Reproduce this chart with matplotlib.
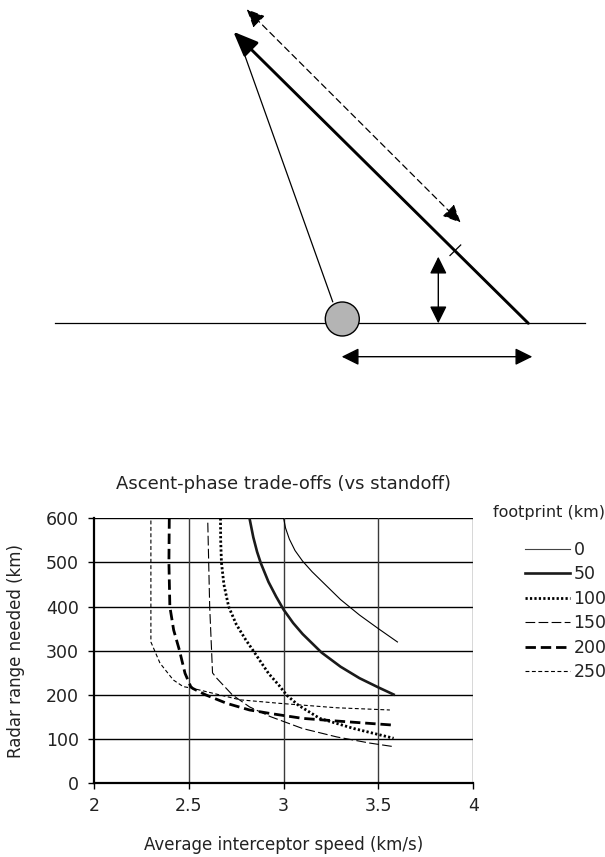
import matplotlib
matplotlib.use("Agg")
import matplotlib.pyplot as plt
from matplotlib.patches import FancyArrowPatch, Circle, ArrowStyle

plt.rcParams['font.family'] = ['DejaVu Sans']
plt.rcParams['lines.scale_dashes'] = False

# ---------------- chart data ----------------
footprints = ["0", "50", "100", "150", "200", "250"]

fp0_x = [3.0, 3.01, 3.03, 3.06, 3.1, 3.15, 3.2, 3.3, 3.4, 3.5, 3.6]
fp0_y = [600, 578, 553, 527, 503, 479, 458, 416, 381, 350, 320]

fp50_x = [2.82, 2.84, 2.86, 2.88, 2.92, 2.96, 3.0, 3.05, 3.1, 3.2, 3.3, 3.4, 3.5, 3.58]
fp50_y = [600, 557, 524, 498, 456, 423, 393, 363, 338, 296, 264, 238, 217, 201]

fp100_x = [2.667, 2.668, 2.672, 2.685, 2.71, 2.75, 2.8, 2.84, 2.92, 2.975, 3.015, 3.077, 3.19, 3.37, 3.58]
fp100_y = [600, 550, 500, 450, 400, 360, 325, 300, 249, 222, 200, 177, 147, 124, 102]

fp150_x = [2.60, 2.61, 2.625, 2.647, 2.73, 2.82, 2.93, 3.1, 3.28, 3.455, 3.58]
fp150_y = [590, 400, 250, 238, 200, 173, 151, 124, 105, 91, 83]

fp200_x = [2.397, 2.395, 2.40, 2.42, 2.45, 2.48, 2.51, 2.52, 2.59, 2.70, 2.82, 2.93, 3.10, 3.28, 3.57]
fp200_y = [600, 500, 400, 347, 302, 249, 219, 215, 200, 181, 166, 158, 147, 141, 132]

fp250_x = [2.30, 2.30, 2.348, 2.418, 2.47, 2.52, 2.77, 2.98, 3.10, 3.28, 3.56]
fp250_y = [595, 320, 272, 234, 219, 215, 189, 181, 177, 171, 166]

x_ticks = [2, 2.5, 3, 3.5, 4]
x_ticklabels = ["2", "2.5", "3", "3.5", "4"]
y_ticks = [0, 100, 200, 300, 400, 500, 600]

title = "Ascent-phase trade-offs (vs standoff)"
xlabel = "Average interceptor speed (km/s)"
ylabel = "Radar range needed (km)"
legend_title = "footprint (km)"

# ---------------- diagram geometry (pixel space) ----------------
ground = [(55, 323.3), (585, 323.3)]
launcher = (342.3, 319.0)
launcher_r = 17
main_path = [(528.3, 323.3), (233.3, 31.7)]
sight_line = [(332.7, 301.7), (241.7, 46.7)]
dash_arrow = [(246.7, 9.3), (460.7, 222.7)]
tick_mark = [(450.0, 255.5), (460.7, 245.0)]
vert_arrow = [(438.3, 256.7), (438.3, 323.3)]
horiz_arrow = [(341.7, 356.7), (532.3, 356.7)]

W, H = 605, 857
fig = plt.figure(figsize=(W / 100, H / 100), dpi=100)

# diagram axes in pixel coordinates
dax = fig.add_axes([0, 0, 1, 1])
dax.set_xlim(0, W)
dax.set_ylim(H, 0)
dax.axis('off')
dax.patch.set_visible(False)

dax.plot([p[0] for p in ground], [p[1] for p in ground], color='black', lw=0.9)
dax.plot([p[0] for p in sight_line], [p[1] for p in sight_line], color='black', lw=0.9)

main = FancyArrowPatch(main_path[0], main_path[1],
                       arrowstyle=ArrowStyle('-|>', head_length=15, head_width=6.2),
                       mutation_scale=1, lw=2.1, color='black', shrinkA=0, shrinkB=0)
dax.add_patch(main)

dash = FancyArrowPatch(dash_arrow[0], dash_arrow[1],
                       arrowstyle=ArrowStyle('<|-|>', head_length=11, head_width=5),
                       mutation_scale=1, lw=0.9, color='black', linestyle=(0, (4.5, 3)),
                       shrinkA=0, shrinkB=0)
dax.add_patch(dash)

dax.plot([p[0] for p in tick_mark], [p[1] for p in tick_mark], color='black', lw=0.9)

for seg in (vert_arrow, horiz_arrow):
    a = FancyArrowPatch(seg[0], seg[1],
                        arrowstyle=ArrowStyle('<|-|>', head_length=10.5, head_width=5.2),
                        mutation_scale=1, lw=1.0, color='black', shrinkA=0, shrinkB=0)
    dax.add_patch(a)

dax.add_patch(Circle(launcher, launcher_r, facecolor='#b4b4b4', edgecolor='black', lw=1.0, zorder=3))

# ---------------- chart ----------------
ax = fig.add_axes([94 / W, 1 - 783.3 / H, (473.3 - 94) / W, (783.3 - 518.3) / H])

series = [
    (fp0_x, fp0_y, dict(color='black', lw=0.8, linestyle='-')),
    (fp50_x, fp50_y, dict(color='#1a1a1a', lw=1.9, linestyle='-')),
    (fp100_x, fp100_y, dict(color='black', lw=2.0, linestyle=(0, (1.6, 1.6)))),
    (fp150_x, fp150_y, dict(color='black', lw=0.8, linestyle=(0, (7.0, 2.4)))),
    (fp200_x, fp200_y, dict(color='black', lw=2.0, linestyle=(0, (7.5, 3.5)))),
    (fp250_x, fp250_y, dict(color='black', lw=0.8, linestyle=(0, (2.8, 1.8)))),
]
handles = []
for (xs, ys, st), lab in zip(series, footprints):
    h, = ax.plot(xs, ys, label=lab, solid_joinstyle='round', **st)
    handles.append(h)

ax.set_xlim(2, 4)
ax.set_ylim(0, 600)
ax.set_xticks(x_ticks)
ax.set_xticklabels(x_ticklabels)
ax.set_yticks(y_ticks)
for v in y_ticks[1:]:
    ax.axhline(v, color='black', lw=1.0, zorder=1)
for v in x_ticks[1:]:
    ax.axvline(v, color='#3a3a3a', lw=1.0, zorder=1)

for s in ['top', 'right']:
    ax.spines[s].set_visible(False)
for s in ['left', 'bottom']:
    ax.spines[s].set_linewidth(1.6)
    ax.spines[s].set_color('black')
ax.tick_params(direction='out', length=4, width=1.0, labelsize=12.5, colors='#222222')
ax.tick_params(axis='both', color='black')
ax.tick_params(axis='y', pad=7)
ax.tick_params(axis='x', pad=6)

ax.set_title(title, fontsize=13, color='#222222', pad=21)
ax.set_xlabel(xlabel, fontsize=12, color='#222222', labelpad=15)
ax.set_ylabel(ylabel, fontsize=12, color='#222222', labelpad=15)

fig.text(493 / W, 1 - 512 / H, legend_title, fontsize=11.5, color='#222222', va='center', ha='left')
leg = ax.legend(handles=handles, loc='upper left', bbox_to_anchor=(525 / W, 1 - 541 / H),
                bbox_transform=fig.transFigure, frameon=False, fontsize=12.5,
                handlelength=2.6, handletextpad=0.2, labelspacing=0.37, borderpad=0,
                borderaxespad=0)
for t in leg.get_texts():
    t.set_color('#222222')
leg.get_lines()[0].set_color('#444444')

fig.savefig('out.png', dpi=100)
